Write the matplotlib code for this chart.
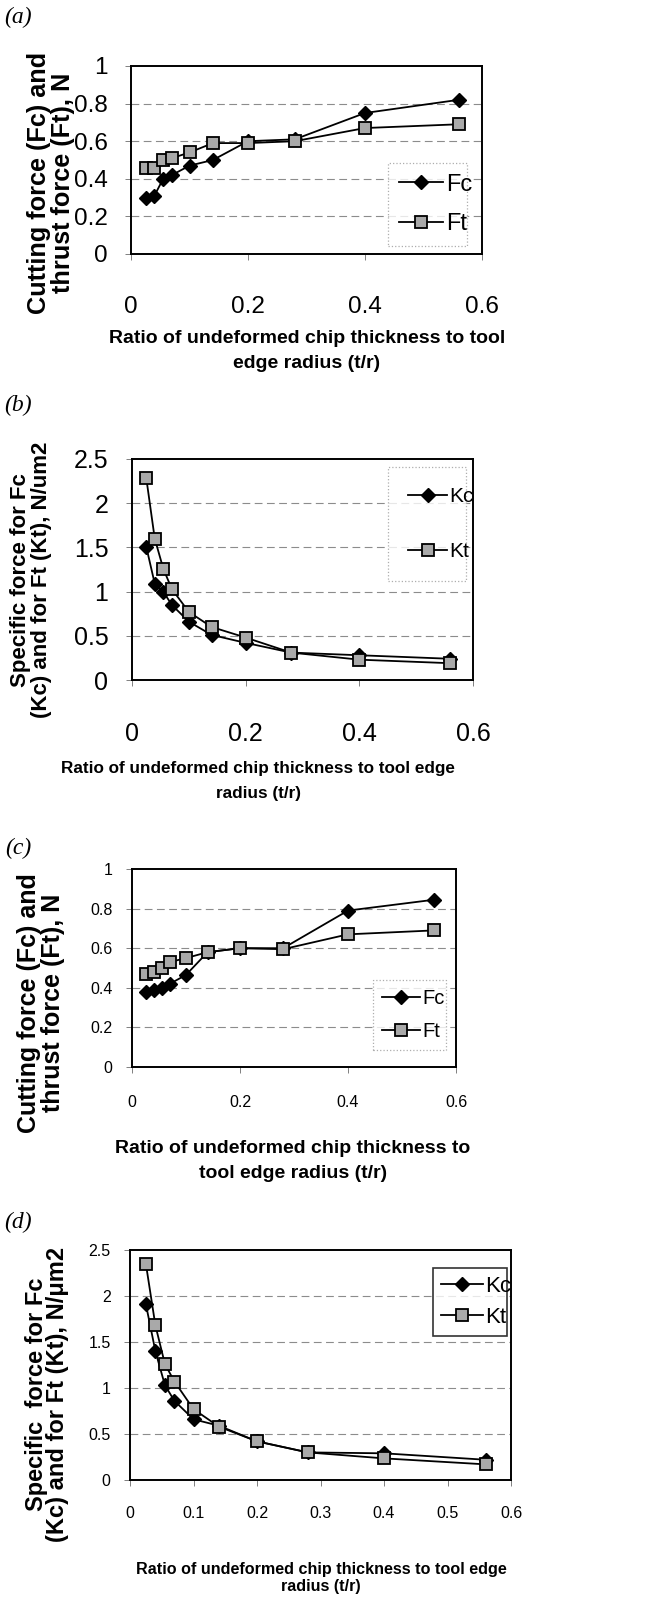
import matplotlib
matplotlib.use("Agg")
import matplotlib.pyplot as plt

# ratio t/r values shared by all four panels
ratio = [0.025, 0.04, 0.055, 0.07, 0.1, 0.14, 0.2, 0.28, 0.4, 0.56]

# (a) forces, N
fc_a = [0.30, 0.31, 0.40, 0.42, 0.47, 0.50, 0.60, 0.61, 0.75, 0.82]
ft_a = [0.46, 0.46, 0.50, 0.51, 0.54, 0.59, 0.59, 0.60, 0.67, 0.69]
# (b) specific forces, N/um2
kc_b = [1.51, 1.09, 1.00, 0.85, 0.66, 0.51, 0.42, 0.31, 0.28, 0.24]
kt_b = [2.29, 1.60, 1.26, 1.03, 0.77, 0.60, 0.48, 0.31, 0.23, 0.19]
# (c) forces, N
fc_c = [0.38, 0.39, 0.40, 0.42, 0.465, 0.58, 0.60, 0.60, 0.79, 0.845]
ft_c = [0.47, 0.48, 0.50, 0.53, 0.55, 0.58, 0.60, 0.595, 0.67, 0.69]
# (d) specific forces, N/um2
kc_d = [1.91, 1.40, 1.03, 0.86, 0.66, 0.59, 0.42, 0.30, 0.29, 0.22]
kt_d = [2.35, 1.68, 1.26, 1.07, 0.77, 0.58, 0.42, 0.30, 0.235, 0.17]

yticks_f = [0, 0.2, 0.4, 0.6, 0.8, 1]
yticks_k = [0, 0.5, 1, 1.5, 2, 2.5]
xticks_3 = [0, 0.2, 0.4, 0.6]
xticks_d = [0, 0.1, 0.2, 0.3, 0.4, 0.5, 0.6]

# Arial-like everywhere (original is Arial / Arial Narrow)
plt.rcParams["font.family"] = ["Liberation Sans", "DejaVu Sans"]

W, H = 649, 1607
fig = plt.figure(figsize=(W / 100, H / 100), dpi=100)


def px_axes(l, r, t, b):
    return fig.add_axes([l / W, 1 - b / H, (r - l) / W, (b - t) / H])


def panel(box, y1, y2, names2, yticks, xticks, ylim, tick_fs, xpad, ypad,
          leg_box, leg_fs, leg_space, leg_pad, leg_solid):
    ax = px_axes(*box)
    ax.plot(ratio, y1, color="black", lw=1.3, marker="D", ms=7,
            mfc="black", mec="black", label=names2[0], zorder=3)
    ax.plot(ratio, y2, color="black", lw=1.3, marker="s", ms=8.5,
            mfc="#a9a9a9", mec="black", mew=1.3, label=names2[1], zorder=4)
    ax.set_xlim(0, 0.6)
    ax.set_ylim(*ylim)
    ax.set_yticks(yticks)
    ax.set_xticks(xticks)
    ax.set_yticklabels([("%g" % v) for v in yticks], fontsize=tick_fs)
    ax.set_xticklabels([("%g" % v) for v in xticks], fontsize=tick_fs)
    ax.tick_params(axis="x", length=4, width=0.7, color="0.5", pad=xpad)
    ax.tick_params(axis="y", length=4, width=0.7, color="0.5", pad=ypad)
    for v in yticks[1:-1]:
        ax.axhline(v, color="0.55", lw=0.8, ls=(0, (7, 4)), zorder=1)
    for s in ax.spines.values():
        s.set_linewidth(1.4)
    l, r, t, b = leg_box
    leg = ax.legend(loc="upper left", bbox_to_anchor=(l / W, 1 - b / H, (r - l) / W, (b - t) / H),
                    bbox_transform=fig.transFigure, mode="expand", borderaxespad=0,
                    fontsize=leg_fs, labelspacing=leg_space,
                    handlelength=1.9, handletextpad=0.1, fancybox=False,
                    borderpad=leg_pad)
    fr = leg.get_frame()
    if leg_solid:
        fr.set_edgecolor("black")
        fr.set_linewidth(1.2)
    else:
        fr.set_edgecolor("0.6")
        fr.set_linewidth(0.9)
        fr.set_linestyle(":")
    return ax


def ftext(x, y, s, **kw):
    fig.text(x / W, 1 - y / H, s, ha="center", va="center", **kw)


# (a)
panel((131, 482, 66, 254), fc_a, ft_a, ["Fc", "Ft"], yticks_f, xticks_3, (0, 1),
      17.5, 26, 13, (388, 467, 163, 245), 17, 0.75, 0.45, False)
ftext(18, 17, "(a)", family="Liberation Serif", style="italic", fontsize=17)
ftext(51, 183, "Cutting force (Fc) and\nthrust force (Ft), N", rotation=90,
      weight="bold", fontsize=18.2, linespacing=0.98)
ftext(307, 351, "Ratio of undeformed chip thickness to tool\nedge radius (t/r)",
      weight="bold", fontsize=14, linespacing=1.6)

# (b)
panel((132, 473, 459, 680), kc_b, kt_b, ["Kc", "Kt"], yticks_k, xticks_3, (0, 2.5),
      18, 26, 13, (388, 466, 467, 582), 15, 1.75, 0.95, False)
ftext(18, 405, "(b)", family="Liberation Serif", style="italic", fontsize=17)
ftext(31, 580, "Specific force for Fc\n(Kc) and for Ft (Kt), N/um2", rotation=90,
      weight="bold", fontsize=16, linespacing=1.05)
ftext(258, 781, "Ratio of undeformed chip thickness to tool edge\nradius (t/r)",
      weight="bold", fontsize=12.3, linespacing=1.85)

# (c)
panel((132, 456, 869, 1067), fc_c, ft_c, ["Fc", "Ft"], yticks_f, xticks_3, (0, 1),
      11.5, 16, 10, (373, 446, 980, 1050), 14.5, 0.7, 0.45, False)
ftext(18, 848, "(c)", family="Liberation Serif", style="italic", fontsize=17)
ftext(41, 1003, "Cutting force (Fc) and\nthrust force (Ft), N", rotation=90,
      weight="bold", fontsize=18, linespacing=0.95)
ftext(293, 1161, "Ratio of undeformed chip thickness to\ntool edge radius (t/r)",
      weight="bold", fontsize=14, linespacing=1.6)

# (d)
panel((130, 511, 1250, 1480), kc_d, kt_d, ["Kc", "Kt"], yticks_k, xticks_d, (0, 2.5),
      11.5, 15, 10, (433, 507, 1268, 1338), 16, 0.45, 0.35, True)
ftext(18, 1222, "(d)", family="Liberation Serif", style="italic", fontsize=17)
ftext(47, 1394, "Specific  force for Fc\n(Kc) and for Ft (Kt), N/\u03bcm2", rotation=90,
      weight="bold", fontsize=17, linespacing=0.93)
ftext(321, 1578, "Ratio of undeformed chip thickness to tool edge\nradius (t/r)",
      weight="bold", fontsize=11.6, linespacing=1.2)

fig.savefig("out.png", dpi=100)
